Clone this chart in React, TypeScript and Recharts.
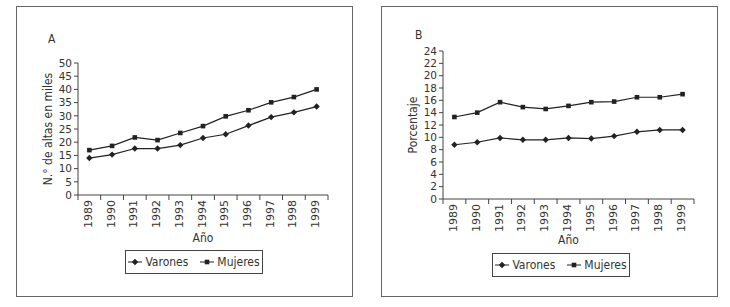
import React from 'react';
import { LineChart, Line, XAxis, YAxis } from 'recharts';

const YEARS = [1989, 1990, 1991, 1992, 1993, 1994, 1995, 1996, 1997, 1998, 1999];

// panel A: N.º de altas en miles
const ALTAS_VARONES = [14.0, 15.3, 17.6, 17.6, 18.9, 21.6, 23.0, 26.3, 29.5, 31.3, 33.5];
const ALTAS_MUJERES = [17.0, 18.6, 21.8, 20.8, 23.5, 26.1, 29.8, 32.1, 35.1, 37.1, 40.0];
const ALTAS_TICKS = [0, 5, 10, 15, 20, 25, 30, 35, 40, 45, 50];

// panel B: porcentaje
const PCT_VARONES = [8.8, 9.2, 9.9, 9.6, 9.6, 9.9, 9.8, 10.2, 10.9, 11.2, 11.2];
const PCT_MUJERES = [13.3, 14.0, 15.7, 14.9, 14.6, 15.1, 15.7, 15.8, 16.5, 16.5, 17.0];
const PCT_TICKS = [0, 2, 4, 6, 8, 10, 12, 14, 16, 18, 20, 22, 24];

const WORDS = "'DejaVu Sans Condensed', 'Liberation Sans Narrow', Arial, sans-serif";
const DIGITS = "'DejaVu Sans', Verdana, sans-serif";
const INK = '#222';
const AXIS = '#444';
const TEXT = '#333';

// x ticks: whole years carry the label, half years carry the tick mark
const X_TICKS = [YEARS[0] - 0.5, ...YEARS.flatMap(y => [y, y + 0.5])];

const makeRows = (a: number[], b: number[]) =>
  YEARS.map((year, i) => ({ year, varones: a[i], mujeres: b[i] }));

const XTick = ({ x, y, payload }: any) => {
  const v = payload.value;
  if (v % 1 !== 0) return <line x1={x} y1={y} x2={x} y2={y + 5} stroke={AXIS} />;
  return (
    <text x={x - 1} y={y + 5} transform={`rotate(-90, ${x - 1}, ${y + 5})`} textAnchor="end"
      dominantBaseline="central" fontSize={11} fill={TEXT} fontFamily={DIGITS}>
      {v}
    </text>
  );
};

const Diamond = ({ cx, cy }: any) => (
  <path d={`M${cx},${cy - 3.2}L${cx + 3.2},${cy}L${cx},${cy + 3.2}L${cx - 3.2},${cy}Z`} fill={INK} />
);
const Square = ({ cx, cy }: any) => (
  <rect x={cx - 2.3} y={cy - 2.3} width={4.6} height={4.6} fill={INK} />
);

const LegendBox = ({ left, top }: { left: number; top: number }) => (
  <div style={{
    position: 'absolute', left, top, width: 138, height: 24, boxSizing: 'border-box',
    border: `1px solid ${AXIS}`, display: 'flex', alignItems: 'center', justifyContent: 'center',
    gap: 12, fontFamily: WORDS, fontSize: 12, color: TEXT,
  }}>
    <span style={{ display: 'flex', alignItems: 'center', gap: 3 }}>
      <svg width={14} height={8}><line x1={0} y1={4} x2={14} y2={4} stroke={INK} /><Diamond cx={7} cy={4} /></svg>
      Varones
    </span>
    <span style={{ display: 'flex', alignItems: 'center', gap: 3 }}>
      <svg width={14} height={8}><line x1={0} y1={4} x2={14} y2={4} stroke={INK} /><Square cx={7} cy={4} /></svg>
      Mujeres
    </span>
  </div>
);

type PanelProps = {
  left: number;
  letter: string;
  letterPos: [number, number];
  rows: { year: number; varones: number; mujeres: number }[];
  ticks: number[];
  yLabel: string;
  margin: { top: number; right: number; bottom: number; left: number };
  legendPos: [number, number];
  labelOffset: number;
};

const Panel = ({ left, letter, letterPos, rows, ticks, yLabel, margin, legendPos, labelOffset }: PanelProps) => {
  const domain = [YEARS[0] - 0.5, YEARS[YEARS.length - 1] + 0.5];
  return (
    <>
      <div style={{
        position: 'absolute', left: left + 16, top: 6, width: 337, height: 291,
        boxSizing: 'border-box', border: '1px solid #666',
      }} />
      <div style={{
        position: 'absolute', left: left + letterPos[0], top: letterPos[1],
        fontFamily: WORDS, fontSize: 12, color: TEXT,
      }}>{letter}</div>
      <div style={{ position: 'absolute', left, top: 0 }}>
        <LineChart width={365} height={307} data={rows} margin={margin}>
          <XAxis dataKey="year" type="number" domain={domain} ticks={X_TICKS} interval={0}
            tick={<XTick />} tickLine={false} tickSize={0} tickMargin={0} height={48}
            axisLine={{ stroke: AXIS }}
            label={{ value: 'Año', position: 'insideBottom', offset: labelOffset, fill: TEXT, fontSize: 12, fontFamily: WORDS }} />
          <XAxis xAxisId="top" orientation="top" dataKey="year" type="number" domain={domain}
            height={0} tick={false} tickLine={false} axisLine={{ stroke: AXIS }} />
          <YAxis type="number" domain={[ticks[0], ticks[ticks.length - 1]]} ticks={ticks} interval={0}
            width={40} tickSize={4} tickMargin={2} tickLine={{ stroke: AXIS }} axisLine={{ stroke: AXIS }}
            tick={{ fontSize: 10.5, fill: TEXT, fontFamily: DIGITS }}
            label={{ value: yLabel, angle: -90, position: 'insideLeft', offset: 10,
              style: { textAnchor: 'middle', fontSize: 12, fill: TEXT, fontFamily: WORDS } }} />
          <YAxis yAxisId="right" orientation="right" domain={[ticks[0], ticks[ticks.length - 1]]}
            width={0} tick={false} tickLine={false} axisLine={{ stroke: AXIS }} />
          <Line dataKey="varones" type="linear" stroke={INK} strokeWidth={1.2} isAnimationActive={false}
            dot={(p: any) => <Diamond key={`v${p.index}`} cx={p.cx} cy={p.cy} />} />
          <Line dataKey="mujeres" type="linear" stroke={INK} strokeWidth={1.2} isAnimationActive={false}
            dot={(p: any) => <Square key={`m${p.index}`} cx={p.cx} cy={p.cy} />} />
        </LineChart>
      </div>
      <LegendBox left={left + legendPos[0]} top={legendPos[1]} />
    </>
  );
};

export default function App() {
  return (
    <div style={{ position: 'absolute', left: 0, top: 0, width: 730, height: 307, background: '#fff', overflow: 'hidden' }}>
      <Panel left={0} letter="A" letterPos={[48, 32]} rows={makeRows(ALTAS_VARONES, ALTAS_MUJERES)}
        ticks={ALTAS_TICKS} yLabel="N.° de altas en miles" labelOffset={1}
        margin={{ top: 63, right: 37, bottom: 64, left: 38 }} legendPos={[125, 250]} />
      <Panel left={365} letter="B" letterPos={[50, 28]} rows={makeRows(PCT_VARONES, PCT_MUJERES)}
        ticks={PCT_TICKS} yLabel="Porcentaje" labelOffset={3}
        margin={{ top: 51, right: 36, bottom: 60, left: 38 }} legendPos={[127, 253]} />
    </div>
  );
}
